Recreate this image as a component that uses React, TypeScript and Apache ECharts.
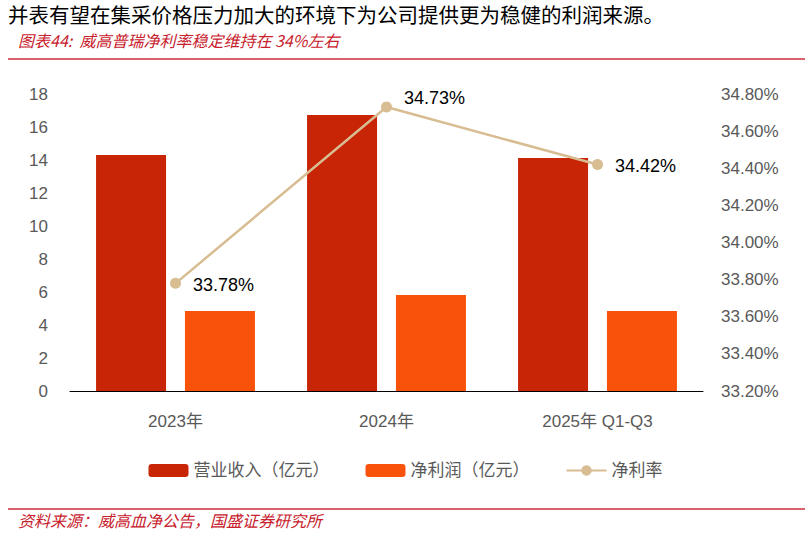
import React, { useEffect, useRef } from "react";
import * as echarts from "echarts";

const categories = ["2023年", "2024年", "2025年 Q1-Q3"];
const revenue = [14.3, 16.73, 14.12];
const netProfit = [4.85, 5.82, 4.85];
const netMargin = [33.78, 34.73, 34.42];
const seriesNames = ["营业收入（亿元）", "净利润（亿元）", "净利率"];
const headline = "并表有望在集采价格压力加大的环境下为公司提供更为稳健的利润来源。";
const subtitle = "图表44:  威高普瑞净利率稳定维持在 34%左右";
const sourceNote = "资料来源：威高血净公告，国盛证券研究所";

const FONT = "'Liberation Sans', 'Noto Sans CJK SC', sans-serif";
const CJK = "'Noto Sans CJK SC', sans-serif";

export default function App() {
  const ref = useRef<HTMLDivElement>(null);
  useEffect(() => {
    if (!ref.current) return;
    const chart = echarts.init(ref.current, undefined, { renderer: "svg" });
    const labelOffsets = [[0, 2], [0, -9], [0, 1]];
    chart.setOption({
      animation: false,
      backgroundColor: "#ffffff",
      textStyle: { fontFamily: FONT },
      graphic: [
        {
          type: "text",
          left: 8,
          top: 4,
          style: { text: headline, font: `20.5px ${CJK}`, fill: "#000000" },
        },
        {
          type: "text",
          left: 18,
          top: 32,
          style: {
            text: subtitle,
            font: `italic 16px ${CJK}`,
            fill: "#C8202C",
          },
        },
        {
          type: "line",
          shape: { x1: 8, y1: 59, x2: 805, y2: 59 },
          style: { stroke: "#D9636B", lineWidth: 2 },
        },
        {
          type: "line",
          shape: { x1: 8, y1: 509, x2: 805, y2: 509 },
          style: { stroke: "#D9636B", lineWidth: 2 },
        },
        {
          type: "text",
          left: 18,
          top: 512,
          style: {
            text: sourceNote,
            font: `italic 16px ${CJK}`,
            fill: "#C8202C",
          },
        },
      ],
      grid: { left: 70, right: 108, top: 94, bottom: 142, containLabel: false },
      legend: {
        top: 457,
        left: "center",
        itemWidth: 40,
        itemHeight: 13,
        itemGap: 36,
        textStyle: { fontSize: 17, color: "#595959", fontFamily: FONT },
        data: seriesNames,
      },
      xAxis: {
        type: "category",
        data: categories,
        axisLine: { show: true, lineStyle: { color: "#000000", width: 1 } },
        axisTick: { show: false },
        axisLabel: { fontSize: 17, color: "#595959", margin: 22 },
      },
      yAxis: [
        {
          type: "value",
          min: 0,
          max: 18,
          interval: 2,
          splitLine: { show: false },
          axisLine: { show: false },
          axisTick: { show: false },
          axisLabel: { fontSize: 17, color: "#595959", margin: 22 },
        },
        {
          type: "value",
          min: 33.2,
          max: 34.8,
          interval: 0.2,
          alignTicks: false,
          splitLine: { show: false },
          axisLine: { show: false },
          axisTick: { show: false },
          axisLabel: {
            fontSize: 17,
            color: "#595959",
            margin: 18,
            formatter: (v: number) => v.toFixed(2) + "%",
          },
        },
      ],
      series: [
        {
          name: seriesNames[0],
          type: "bar",
          data: revenue,
          barWidth: 70,
          barGap: "27%",
          itemStyle: { color: "#C82506" },
        },
        {
          name: seriesNames[1],
          type: "bar",
          data: netProfit,
          barWidth: 70,
          itemStyle: { color: "#F9530B" },
        },
        {
          name: seriesNames[2],
          type: "line",
          yAxisIndex: 1,
          symbol: "circle",
          symbolSize: 11,
          lineStyle: { color: "#D8BC92", width: 2.5 },
          itemStyle: { color: "#D8BC92" },
          data: netMargin.map((v, i) => ({
            value: v,
            label: {
              show: true,
              position: "right",
              distance: 12,
              offset: labelOffsets[i],
              formatter: () => v.toFixed(2) + "%",
              fontSize: 18,
              color: "#000000",
              fontFamily: FONT,
            },
          })),
        },
      ],
    });
    return () => chart.dispose();
  }, []);
  return (
    <div
      ref={ref}
      style={{ position: "absolute", left: 0, top: 0, width: 811, height: 533 }}
    />
  );
}
